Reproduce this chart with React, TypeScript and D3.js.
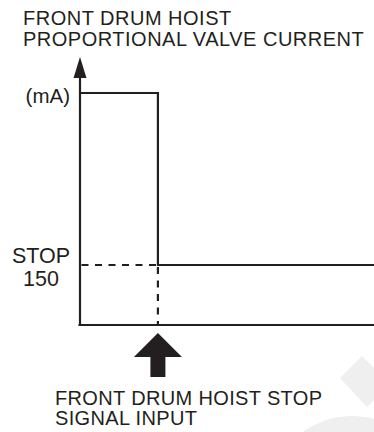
import React from "react";
import * as d3 from "d3";

// step response of the proportional valve (time is normalised 0..1)
const stepTimes = [0, 0.265, 1];
const currentMilliAmps = [580, 150, 150];
const stopTime = 0.265;
const stopCurrent = 150;
const axisMaxCurrent = 670;

const titleLines = ["FRONT DRUM HOIST", "PROPORTIONAL VALVE CURRENT"];
const unitLabel = "(mA)";
const stopLabelLines = ["STOP", "150"];
const signalLines = ["FRONT DRUM HOIST STOP", "SIGNAL INPUT"];

const W = 374;
const H = 432;
const ink = "#231f20";
const font = "'Liberation Sans', Arial, Helvetica, sans-serif";

export default function App() {
  const x = d3.scaleLinear().domain([0, 1]).range([80, 374]);
  const y = d3.scaleLinear().domain([0, axisMaxCurrent]).range([325, 57]);

  const pts: [number, number][] = stepTimes.map((t, i) => [t, currentMilliAmps[i]]);
  const stepLine = d3
    .line<[number, number]>()
    .x((d) => x(d[0]))
    .y((d) => y(d[1]))
    .curve(d3.curveStepAfter);

  const x0 = x(0);
  const y0 = y(0);
  const sx = x(stopTime);
  const sy = y(stopCurrent);
  const top = y(axisMaxCurrent);

  // big filled arrow pointing at the stop instant
  const ah = [
    [sx, y0 + 8],
    [sx + 24, y0 + 32],
    [sx + 7.5, y0 + 32],
    [sx + 7.5, y0 + 52],
    [sx - 7.5, y0 + 52],
    [sx - 7.5, y0 + 32],
    [sx - 24, y0 + 32],
  ];

  return (
    <svg
      width={W}
      height={H}
      style={{ position: "absolute", left: 0, top: 0, background: "#fff" }}
    >
      {/* faint watermark */}
      <g fill="#efefef">
        <polygon points="340,378 362,356 374,368 374,400 367,407" />
        <circle cx={352} cy={500} r={84} />
      </g>

      <g fontFamily={font} fill={ink}>
        {titleLines.map((t, i) => (
          <text key={t} x={23} y={25 + i * 20.5} fontSize={20} letterSpacing={0.5}>
            {t}
          </text>
        ))}
        <text x={70} y={103} fontSize={20.5} textAnchor="end">
          {unitLabel}
        </text>
        {stopLabelLines.map((t, i) => (
          <text key={t} x={41} y={262.5 + i * 23.5} fontSize={21.5} textAnchor="middle">
            {t}
          </text>
        ))}
        {signalLines.map((t, i) => (
          <text key={t} x={55} y={404.5 + i * 20.5} fontSize={20} letterSpacing={0.35}>
            {t}
          </text>
        ))}
      </g>

      {/* reference dashes */}
      <g stroke={ink} strokeWidth={2.2} strokeDasharray="7,6.5">
        <line x1={x0 + 1.5} x2={sx} y1={sy} y2={sy} />
        <line x1={sx} x2={sx} y1={sy + 2} y2={y0} />
      </g>

      {/* axes */}
      <line x1={x0 - 1.5} x2={W} y1={y0} y2={y0} stroke={ink} strokeWidth={2.2} />
      <line x1={x0} x2={x0} y1={y0 + 1} y2={top + 20} stroke={ink} strokeWidth={2.2} />
      <polygon
        points={`${x0},${top} ${x0 + 6.5},${top + 21} ${x0 - 6.5},${top + 21}`}
        fill={ink}
      />

      {/* valve current */}
      <path d={stepLine(pts) ?? ""} fill="none" stroke={ink} strokeWidth={2.2} />

      <polygon points={ah.map((p) => p.join(",")).join(" ")} fill={ink} />
    </svg>
  );
}
